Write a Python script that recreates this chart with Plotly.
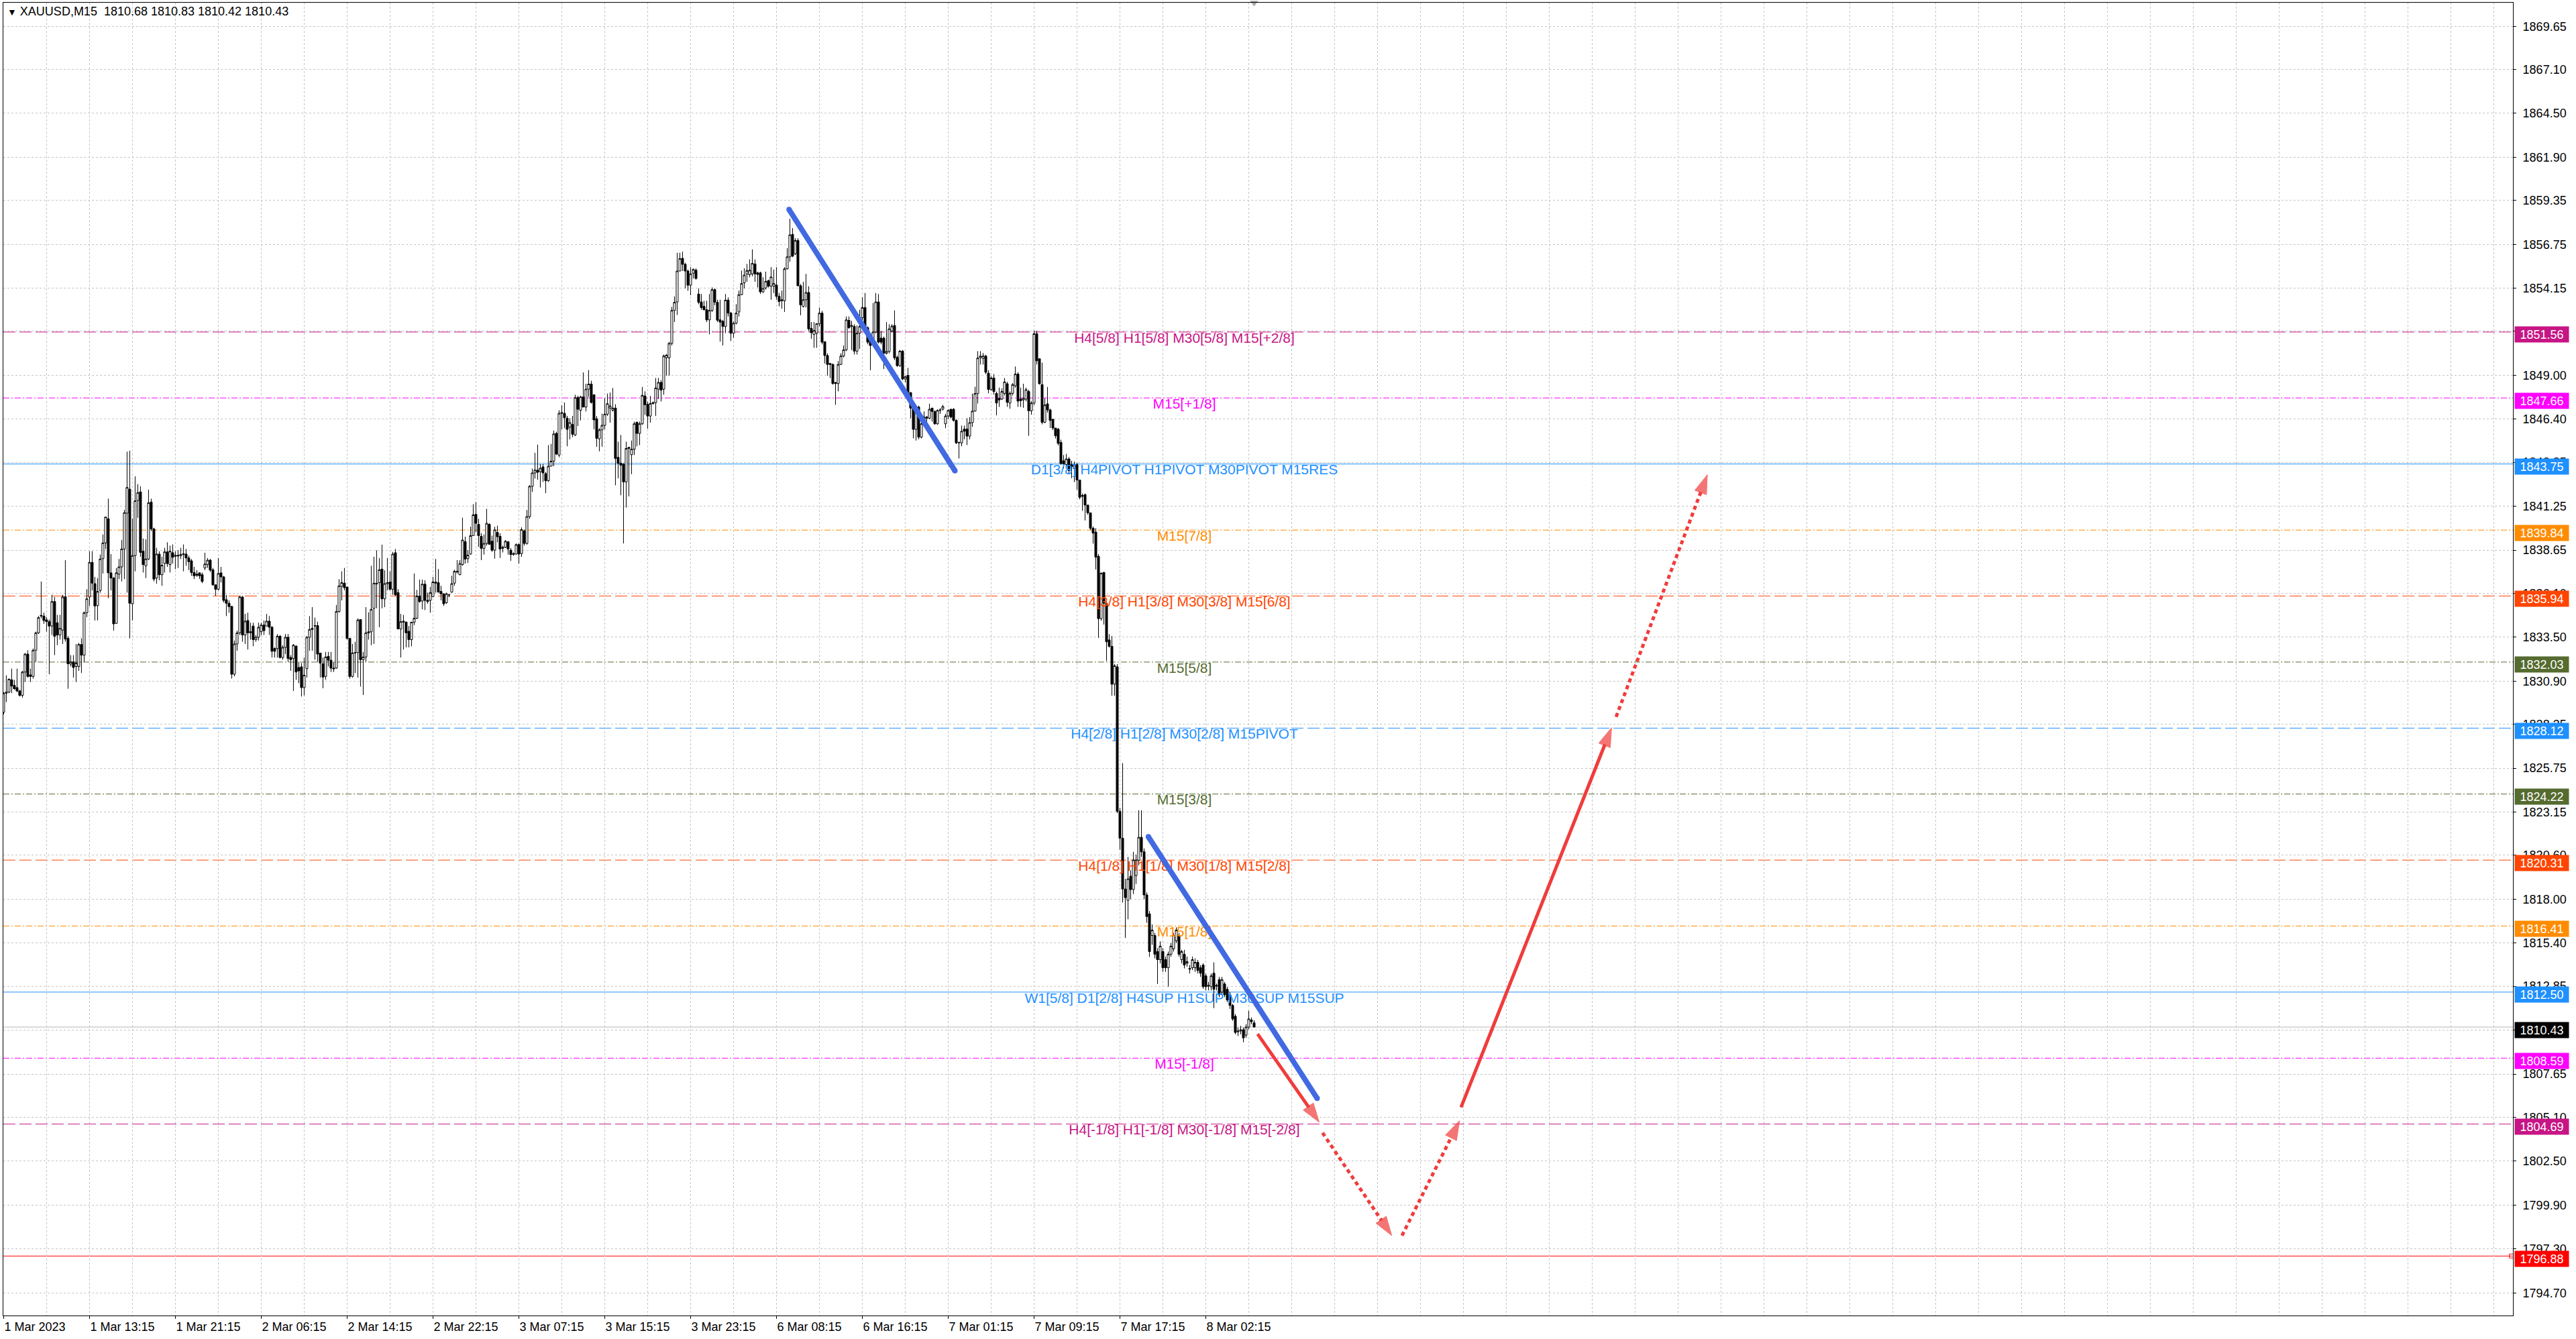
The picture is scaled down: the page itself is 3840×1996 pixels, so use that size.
# ====================================
# GRAFICO XAUUSD M15 - NIVEIS MURREY
# ====================================

import plotly.graph_objects as go

# Cotacoes M15 (uma barra por indice, 1 Mar 2023 00:00 em diante)
abertura = [
    1829.06, 1830.19, 1830.25, 1830.98, 1830.65, 1830.52, 1830.32, 1830.06, 1831.44, 1832.50,
    1831.27, 1831.18, 1832.73, 1833.76, 1834.75, 1834.75, 1834.53, 1834.42, 1834.16, 1835.61,
    1834.36, 1833.63, 1833.92, 1835.90, 1833.43, 1831.91, 1832.04, 1831.77, 1831.77, 1833.07,
    1832.44, 1834.95, 1835.88, 1837.93, 1836.67, 1835.37, 1836.27, 1838.15, 1839.08, 1840.51,
    1837.31, 1837.00, 1834.32, 1837.23, 1837.66, 1838.72, 1840.84, 1842.26, 1835.48, 1838.33,
    1841.59, 1842.10, 1838.59, 1837.73, 1838.13, 1841.50, 1839.91, 1837.00, 1838.42, 1837.20,
    1837.86, 1838.55, 1837.80, 1838.50, 1838.29, 1838.35, 1838.33, 1838.39, 1838.42, 1838.19,
    1838.02, 1837.33, 1837.23, 1837.31, 1837.20, 1837.60, 1837.80, 1838.06, 1837.49, 1836.60,
    1836.34, 1837.31, 1837.07, 1835.72, 1835.51, 1835.32, 1831.31, 1833.10, 1833.76, 1835.88,
    1833.63, 1834.49, 1833.76, 1834.16, 1833.36, 1833.50, 1833.83, 1834.22, 1834.16, 1834.45,
    1834.09, 1832.83, 1832.83, 1833.56, 1832.30, 1832.90, 1833.50, 1832.30, 1832.24, 1832.97,
    1831.71, 1831.75, 1830.52, 1831.64, 1833.50, 1833.96, 1834.16, 1834.19, 1832.56, 1831.93,
    1831.18, 1832.37, 1832.14, 1831.67, 1831.67, 1835.02, 1836.51, 1836.70, 1836.47, 1833.43,
    1831.18, 1832.57, 1832.59, 1834.55, 1832.17, 1832.33, 1833.76, 1833.82, 1835.21, 1836.70,
    1836.73, 1837.53, 1835.77, 1836.67, 1836.77, 1836.34, 1838.50, 1836.14, 1833.99, 1834.45,
    1834.40, 1833.85, 1833.36, 1834.39, 1834.62, 1835.94, 1835.64, 1836.64, 1835.68, 1835.68,
    1835.90, 1836.77, 1836.73, 1836.21, 1836.07, 1835.54, 1836.01, 1836.17, 1836.70, 1837.36,
    1837.20, 1837.80, 1839.16, 1838.15, 1838.42, 1839.51, 1840.77, 1840.18, 1839.47, 1838.76,
    1839.05, 1840.18, 1839.18, 1838.65, 1839.70, 1839.47, 1838.76, 1838.82, 1839.15, 1838.65,
    1838.39, 1838.42, 1838.98, 1838.45, 1839.80, 1839.05, 1840.64, 1842.43, 1843.22, 1843.39,
    1843.30, 1843.58, 1843.18, 1842.76, 1843.62, 1843.92, 1845.56, 1844.28, 1846.75, 1846.75,
    1846.46, 1845.93, 1846.09, 1845.47, 1847.68, 1846.93, 1847.72, 1847.12, 1848.18, 1848.48,
    1847.85, 1846.43, 1845.24, 1845.77, 1846.04, 1846.70, 1847.06, 1846.93, 1847.06, 1844.14,
    1843.80, 1843.75, 1842.69, 1844.67, 1844.30, 1844.63, 1846.22, 1845.56, 1846.13, 1847.78,
    1847.28, 1846.59, 1847.33, 1847.38, 1848.18, 1848.58, 1848.18, 1850.03, 1850.03, 1850.89,
    1852.84, 1853.34, 1855.17, 1855.92, 1855.57, 1855.17, 1854.33, 1855.04, 1855.22, 1853.81,
    1853.34, 1853.08, 1852.88, 1852.28, 1852.84, 1854.07, 1853.32, 1852.28, 1852.19, 1851.89,
    1853.45, 1852.68, 1851.49, 1852.08, 1852.75, 1853.77, 1854.47, 1854.99, 1854.95, 1855.00,
    1855.59, 1855.06, 1855.06, 1853.94, 1854.17, 1854.60, 1854.27, 1854.27, 1854.34, 1853.67,
    1853.41, 1853.41, 1855.30, 1856.01, 1857.34, 1856.19, 1856.98, 1854.30, 1853.08, 1853.47,
    1853.90, 1851.78, 1851.42, 1851.49, 1852.05, 1852.68, 1850.99, 1850.17, 1849.70, 1849.64,
    1848.58, 1848.51, 1849.64, 1850.14, 1850.50, 1852.25, 1851.89, 1851.89, 1850.43, 1851.49,
    1852.41, 1853.01, 1851.82, 1851.09, 1850.96, 1851.56, 1853.34, 1851.20, 1851.20, 1850.30,
    1850.41, 1851.62, 1851.95, 1850.06, 1849.57, 1850.43, 1848.78, 1849.00, 1847.98, 1847.12,
    1845.80, 1847.12, 1845.34, 1846.13, 1846.53, 1846.46, 1847.06, 1846.86, 1846.13, 1846.92,
    1847.00, 1846.13, 1846.59, 1846.99, 1846.99, 1846.33, 1845.00, 1845.00, 1845.82, 1845.82,
    1845.40, 1846.20, 1846.88, 1847.92, 1850.04, 1850.00, 1850.14, 1849.13, 1848.16, 1848.84,
    1847.93, 1847.63, 1847.59, 1847.93, 1848.50, 1847.36, 1847.93, 1848.38, 1849.07, 1847.59,
    1847.54, 1847.59, 1848.04, 1846.90, 1847.36, 1851.46, 1849.98, 1848.45, 1846.22, 1847.31,
    1846.95, 1846.40, 1845.88, 1845.81, 1845.03, 1843.94, 1843.71, 1844.05, 1843.71, 1843.48,
    1843.71, 1842.80, 1841.89, 1841.94, 1841.32, 1840.86, 1839.95, 1839.72, 1838.29, 1834.60,
    1837.33, 1835.51, 1833.34, 1832.96, 1830.72, 1831.75, 1823.20, 1821.61, 1818.60, 1817.93,
    1819.36, 1818.57, 1819.40, 1820.30, 1821.66, 1820.80, 1818.25, 1817.13, 1815.85, 1815.85,
    1814.90, 1814.42, 1814.90, 1814.42, 1813.94, 1814.74, 1815.06, 1815.53, 1815.85, 1814.42,
    1814.74, 1814.20, 1813.90, 1813.94, 1813.94, 1814.26, 1813.94, 1814.10, 1813.46, 1812.85,
    1812.82, 1813.62, 1812.85, 1813.24, 1812.50, 1812.98, 1812.66, 1812.34, 1811.71, 1811.07,
    1810.15, 1810.20, 1810.27, 1809.95, 1810.43, 1810.85, 1810.68,
]
maxima = [
    1830.25, 1831.25, 1831.05, 1831.64, 1830.98, 1831.64, 1830.39, 1831.51, 1832.57, 1832.73,
    1831.64, 1832.83, 1833.83, 1834.75, 1836.80, 1834.95, 1834.69, 1834.55, 1836.01, 1835.88,
    1834.82, 1834.82, 1836.01, 1838.06, 1833.56, 1832.44, 1832.44, 1833.10, 1833.16, 1833.43,
    1835.02, 1836.34, 1838.59, 1838.59, 1837.07, 1837.00, 1838.39, 1839.58, 1840.64, 1841.70,
    1838.42, 1837.07, 1837.60, 1838.13, 1839.25, 1841.04, 1844.48, 1844.54, 1840.51, 1843.02,
    1842.56, 1842.43, 1839.34, 1839.29, 1842.23, 1841.70, 1839.98, 1838.79, 1838.59, 1838.26,
    1838.79, 1839.12, 1838.92, 1838.99, 1838.59, 1838.66, 1838.79, 1838.99, 1838.72, 1838.33,
    1838.13, 1837.66, 1837.47, 1837.33, 1837.33, 1838.50, 1838.19, 1838.13, 1837.60, 1836.60,
    1838.19, 1837.66, 1837.13, 1836.01, 1835.68, 1835.35, 1833.30, 1833.89, 1835.94, 1835.94,
    1834.88, 1834.95, 1834.36, 1834.36, 1833.63, 1834.36, 1834.36, 1834.49, 1834.88, 1834.75,
    1834.16, 1832.90, 1833.69, 1833.63, 1833.03, 1833.69, 1833.69, 1832.44, 1833.10, 1833.03,
    1832.04, 1831.97, 1832.30, 1833.56, 1834.75, 1835.28, 1834.66, 1834.42, 1832.56, 1832.30,
    1832.63, 1832.63, 1832.63, 1832.04, 1835.41, 1836.93, 1837.40, 1837.60, 1836.47, 1833.43,
    1833.10, 1833.23, 1834.62, 1834.55, 1832.63, 1835.28, 1834.97, 1837.73, 1838.26, 1838.65,
    1838.19, 1838.98, 1837.46, 1838.19, 1837.40, 1838.55, 1838.72, 1836.34, 1834.88, 1834.82,
    1834.42, 1834.16, 1834.42, 1837.27, 1836.30, 1836.91, 1836.91, 1836.87, 1836.14, 1836.47,
    1837.07, 1838.13, 1837.53, 1836.54, 1836.07, 1836.14, 1836.07, 1837.13, 1837.49, 1838.06,
    1838.06, 1840.57, 1839.45, 1838.65, 1840.04, 1841.37, 1841.50, 1840.51, 1839.65, 1839.58,
    1841.10, 1840.24, 1839.51, 1840.04, 1840.10, 1839.65, 1838.92, 1839.25, 1839.18, 1838.78,
    1838.52, 1839.05, 1839.05, 1840.00, 1839.87, 1841.03, 1842.50, 1843.48, 1844.41, 1844.90,
    1843.75, 1843.75, 1843.28, 1844.87, 1844.94, 1845.73, 1845.66, 1846.93, 1847.23, 1847.39,
    1846.60, 1846.46, 1846.60, 1847.85, 1847.79, 1847.79, 1849.17, 1848.50, 1849.31, 1848.68,
    1847.85, 1846.59, 1845.87, 1846.73, 1847.65, 1847.92, 1847.98, 1848.25, 1847.29, 1845.07,
    1845.47, 1843.80, 1845.07, 1844.74, 1845.14, 1846.26, 1846.26, 1846.26, 1848.31, 1848.05,
    1847.45, 1847.78, 1847.45, 1848.84, 1848.84, 1848.71, 1850.23, 1850.27, 1850.98, 1853.05,
    1853.67, 1856.25, 1856.25, 1856.32, 1855.66, 1855.26, 1855.40, 1855.33, 1855.33, 1854.14,
    1853.81, 1853.41, 1853.41, 1853.81, 1854.20, 1854.14, 1853.47, 1853.47, 1852.28, 1853.81,
    1853.61, 1852.75, 1852.18, 1853.21, 1854.01, 1855.20, 1855.33, 1855.59, 1855.86, 1856.45,
    1855.86, 1855.13, 1855.13, 1854.80, 1855.13, 1854.66, 1855.40, 1855.26, 1855.40, 1853.87,
    1854.01, 1855.40, 1856.52, 1858.26, 1857.71, 1857.11, 1857.11, 1854.40, 1854.53, 1855.00,
    1854.27, 1852.15, 1852.15, 1852.08, 1853.01, 1852.81, 1850.99, 1850.30, 1849.70, 1849.70,
    1848.58, 1849.84, 1850.30, 1850.76, 1852.48, 1852.48, 1852.22, 1852.02, 1851.95, 1852.88,
    1853.61, 1853.87, 1851.89, 1851.16, 1853.28, 1853.87, 1853.81, 1851.62, 1851.29, 1852.15,
    1852.02, 1852.02, 1852.84, 1850.17, 1850.50, 1850.50, 1848.97, 1849.44, 1847.98, 1847.19,
    1847.06, 1847.19, 1846.59, 1846.86, 1846.59, 1847.32, 1847.06, 1846.92, 1846.99, 1847.06,
    1847.25, 1846.72, 1846.99, 1847.01, 1847.06, 1846.40, 1845.06, 1846.02, 1846.02, 1846.46,
    1846.53, 1847.92, 1848.32, 1850.43, 1850.43, 1850.32, 1850.21, 1849.30, 1848.95, 1849.07,
    1848.04, 1848.27, 1848.22, 1848.84, 1848.61, 1848.04, 1848.54, 1849.52, 1849.18, 1848.27,
    1848.50, 1848.27, 1848.15, 1847.47, 1851.64, 1851.64, 1849.98, 1849.75, 1847.63, 1848.31,
    1847.02, 1846.40, 1845.88, 1845.88, 1845.19, 1844.28, 1844.35, 1844.16, 1843.94, 1843.89,
    1843.82, 1842.80, 1842.00, 1842.00, 1841.32, 1840.86, 1840.05, 1839.95, 1838.42, 1837.33,
    1837.37, 1835.62, 1833.68, 1833.57, 1831.91, 1831.91, 1823.40, 1826.05, 1819.20, 1820.50,
    1819.70, 1820.80, 1820.64, 1823.26, 1823.26, 1821.00, 1818.40, 1817.30, 1816.50, 1816.00,
    1815.10, 1815.50, 1815.10, 1814.60, 1814.90, 1815.40, 1816.00, 1816.33, 1816.00, 1815.00,
    1815.00, 1814.60, 1814.10, 1814.60, 1814.50, 1814.40, 1814.10, 1814.20, 1813.60, 1813.10,
    1813.60, 1814.26, 1813.00, 1813.40, 1813.40, 1813.10, 1812.80, 1812.50, 1811.80, 1811.20,
    1810.40, 1810.50, 1810.40, 1810.60, 1811.39, 1811.00, 1810.83,
]
minima = [
    1828.93, 1829.66, 1830.19, 1830.19, 1830.39, 1830.25, 1829.99, 1829.92, 1830.85, 1831.11,
    1830.85, 1831.05, 1832.04, 1833.69, 1834.62, 1834.29, 1833.83, 1831.31, 1833.63, 1832.44,
    1833.03, 1833.36, 1833.10, 1833.23, 1830.45, 1831.77, 1831.11, 1830.85, 1831.51, 1831.38,
    1832.04, 1834.69, 1835.35, 1836.27, 1834.49, 1834.49, 1836.14, 1837.27, 1838.72, 1835.81,
    1836.27, 1833.89, 1834.29, 1836.94, 1836.80, 1836.94, 1836.14, 1833.43, 1834.49, 1837.40,
    1840.57, 1838.26, 1837.33, 1837.00, 1838.06, 1839.78, 1836.80, 1836.67, 1836.87, 1836.54,
    1837.33, 1837.66, 1837.33, 1837.86, 1837.53, 1837.60, 1838.13, 1837.40, 1837.73, 1837.47,
    1837.13, 1836.94, 1837.07, 1836.94, 1836.70, 1837.47, 1837.60, 1837.36, 1836.54, 1835.94,
    1836.27, 1836.74, 1835.55, 1834.75, 1834.95, 1831.05, 1831.18, 1832.70, 1833.63, 1833.23,
    1833.10, 1832.77, 1833.36, 1832.97, 1833.23, 1833.30, 1833.63, 1833.63, 1834.16, 1833.63,
    1832.30, 1832.30, 1832.30, 1832.24, 1832.17, 1832.50, 1832.04, 1831.51, 1830.32, 1830.98,
    1830.78, 1829.99, 1830.06, 1831.11, 1832.70, 1832.70, 1832.17, 1832.04, 1831.11, 1830.48,
    1830.98, 1831.77, 1831.44, 1831.44, 1831.64, 1834.95, 1835.68, 1836.27, 1833.36, 1831.05,
    1831.11, 1831.38, 1831.11, 1830.58, 1830.08, 1832.06, 1833.36, 1833.03, 1833.10, 1835.21,
    1834.09, 1835.21, 1835.28, 1836.27, 1836.27, 1836.01, 1835.94, 1833.96, 1832.30, 1832.77,
    1832.90, 1832.90, 1832.96, 1834.22, 1834.58, 1835.54, 1835.15, 1835.11, 1835.48, 1834.95,
    1835.87, 1836.14, 1836.14, 1835.68, 1835.35, 1835.48, 1835.87, 1836.14, 1836.54, 1837.27,
    1837.17, 1837.73, 1837.86, 1837.89, 1838.39, 1839.51, 1839.71, 1838.85, 1838.06, 1838.39,
    1838.92, 1838.98, 1838.55, 1838.15, 1839.12, 1838.19, 1838.52, 1838.78, 1838.39, 1838.02,
    1838.32, 1838.39, 1837.86, 1838.26, 1838.92, 1838.98, 1840.51, 1842.10, 1842.89, 1842.82,
    1842.36, 1842.69, 1842.03, 1842.69, 1843.62, 1843.62, 1844.28, 1844.15, 1845.80, 1845.87,
    1844.80, 1845.21, 1845.34, 1845.40, 1846.00, 1846.33, 1847.12, 1846.86, 1847.72, 1847.33,
    1845.80, 1844.77, 1844.50, 1844.77, 1845.80, 1846.59, 1846.20, 1846.86, 1842.49, 1842.90,
    1841.90, 1839.05, 1841.17, 1841.83, 1843.15, 1844.28, 1844.80, 1844.87, 1846.07, 1846.66,
    1845.84, 1846.20, 1847.26, 1846.59, 1847.60, 1847.45, 1847.85, 1848.98, 1848.98, 1850.76,
    1852.15, 1852.57, 1855.17, 1855.17, 1854.14, 1854.00, 1853.74, 1854.73, 1854.66, 1853.21,
    1852.88, 1852.84, 1852.15, 1851.42, 1852.75, 1853.14, 1852.15, 1850.99, 1850.76, 1851.49,
    1852.48, 1851.03, 1851.22, 1852.02, 1852.48, 1853.74, 1854.14, 1854.53, 1854.80, 1854.86,
    1854.53, 1854.20, 1853.81, 1853.87, 1854.07, 1854.20, 1853.47, 1853.87, 1853.47, 1853.08,
    1852.94, 1852.75, 1855.26, 1855.72, 1855.99, 1856.12, 1854.27, 1852.55, 1853.01, 1853.01,
    1851.62, 1851.16, 1850.63, 1850.63, 1851.89, 1850.83, 1849.70, 1848.98, 1848.84, 1848.45,
    1847.25, 1848.05, 1849.61, 1850.06, 1850.43, 1851.75, 1850.50, 1850.23, 1850.23, 1850.56,
    1852.28, 1851.62, 1850.83, 1849.30, 1850.70, 1851.49, 1850.89, 1850.83, 1849.37, 1850.23,
    1850.30, 1851.56, 1849.90, 1849.50, 1849.50, 1848.71, 1848.58, 1847.92, 1846.46, 1845.27,
    1845.14, 1845.21, 1845.27, 1845.99, 1846.20, 1846.40, 1846.26, 1846.07, 1846.07, 1846.72,
    1846.92, 1845.87, 1846.40, 1846.46, 1846.26, 1844.93, 1844.08, 1844.80, 1845.21, 1844.87,
    1845.21, 1845.95, 1846.86, 1847.33, 1849.64, 1849.64, 1849.07, 1847.93, 1848.09, 1847.86,
    1846.63, 1847.13, 1847.54, 1847.81, 1847.13, 1847.02, 1847.80, 1848.27, 1847.13, 1847.13,
    1847.08, 1847.46, 1845.42, 1846.67, 1847.24, 1849.64, 1848.45, 1846.10, 1846.17, 1846.79,
    1845.88, 1845.76, 1845.26, 1844.85, 1843.71, 1843.49, 1843.60, 1843.14, 1842.91, 1842.68,
    1842.23, 1841.66, 1840.98, 1840.41, 1840.75, 1839.84, 1839.04, 1837.51, 1833.46, 1834.48,
    1834.25, 1832.09, 1832.89, 1830.04, 1830.04, 1823.09, 1820.92, 1817.80, 1815.70, 1816.81,
    1818.00, 1818.30, 1818.90, 1820.00, 1820.50, 1818.00, 1816.60, 1814.58, 1815.30, 1814.50,
    1812.98, 1814.20, 1813.70, 1813.70, 1812.82, 1814.60, 1814.90, 1815.40, 1814.60, 1814.20,
    1813.90, 1814.00, 1813.60, 1813.80, 1813.70, 1813.60, 1813.40, 1812.70, 1812.60, 1812.60,
    1812.60, 1811.55, 1812.60, 1812.20, 1812.30, 1812.20, 1811.90, 1811.50, 1810.80, 1810.00,
    1809.90, 1810.00, 1809.53, 1809.80, 1810.30, 1810.60, 1810.42,
]
fechamento = [
    1830.19, 1830.25, 1831.02, 1830.61, 1830.45, 1830.32, 1830.06, 1831.44, 1832.50, 1831.18,
    1831.18, 1832.73, 1833.76, 1834.66, 1834.79, 1834.49, 1834.42, 1834.16, 1835.61, 1833.56,
    1833.63, 1834.02, 1835.88, 1833.39, 1831.93, 1832.04, 1831.71, 1831.97, 1833.07, 1832.44,
    1834.95, 1835.77, 1837.93, 1836.70, 1835.35, 1836.21, 1838.13, 1839.08, 1840.61, 1837.31,
    1837.00, 1834.29, 1837.31, 1837.66, 1838.72, 1840.87, 1842.36, 1835.51, 1838.33, 1841.57,
    1842.06, 1838.52, 1837.80, 1838.13, 1841.46, 1839.91, 1836.94, 1838.42, 1837.20, 1837.76,
    1838.55, 1837.86, 1838.59, 1838.23, 1838.35, 1838.31, 1838.39, 1838.44, 1838.19, 1837.97,
    1837.33, 1837.13, 1837.17, 1837.13, 1836.80, 1837.83, 1838.06, 1837.47, 1836.60, 1836.34,
    1837.27, 1837.07, 1835.68, 1835.51, 1835.31, 1831.31, 1833.10, 1833.76, 1835.88, 1833.63,
    1834.45, 1833.76, 1833.83, 1833.36, 1833.50, 1834.09, 1834.22, 1833.89, 1834.45, 1834.09,
    1832.67, 1832.67, 1833.56, 1832.30, 1832.90, 1833.50, 1832.24, 1832.17, 1833.03, 1831.44,
    1831.51, 1830.52, 1831.25, 1833.50, 1833.96, 1834.02, 1834.18, 1832.50, 1831.97, 1831.14,
    1832.33, 1832.14, 1831.67, 1831.63, 1835.02, 1836.54, 1836.73, 1836.43, 1833.43, 1831.18,
    1832.57, 1832.59, 1834.52, 1832.17, 1832.33, 1833.76, 1833.82, 1835.15, 1836.70, 1836.65,
    1837.49, 1835.77, 1836.67, 1836.73, 1836.34, 1838.42, 1836.01, 1833.99, 1834.42, 1834.40,
    1833.76, 1833.36, 1834.39, 1834.62, 1835.94, 1835.61, 1836.64, 1835.68, 1835.61, 1836.14,
    1836.77, 1836.70, 1836.17, 1836.07, 1835.48, 1836.07, 1836.01, 1836.67, 1837.40, 1837.40,
    1837.86, 1839.25, 1838.12, 1838.36, 1839.51, 1840.74, 1840.24, 1839.51, 1838.76, 1839.05,
    1840.24, 1839.00, 1838.65, 1839.85, 1839.45, 1838.72, 1838.82, 1839.18, 1838.72, 1838.39,
    1838.45, 1838.98, 1838.42, 1839.87, 1839.05, 1840.64, 1842.43, 1843.22, 1843.39, 1843.26,
    1843.50, 1843.22, 1842.76, 1843.62, 1843.92, 1845.53, 1844.34, 1846.75, 1846.79, 1846.49,
    1845.80, 1846.20, 1845.51, 1847.68, 1846.99, 1847.72, 1847.12, 1848.18, 1848.48, 1847.39,
    1846.36, 1845.27, 1845.77, 1846.04, 1846.70, 1847.32, 1847.19, 1847.06, 1844.08, 1843.80,
    1843.68, 1842.69, 1844.67, 1844.74, 1844.63, 1846.13, 1845.56, 1846.13, 1847.81, 1847.26,
    1846.59, 1847.33, 1847.38, 1848.25, 1848.58, 1848.12, 1850.14, 1850.19, 1850.89, 1852.84,
    1853.32, 1855.17, 1855.91, 1855.57, 1855.17, 1854.33, 1855.00, 1855.26, 1854.73, 1853.32,
    1853.01, 1852.88, 1852.28, 1852.84, 1854.07, 1853.32, 1852.26, 1852.15, 1851.89, 1853.45,
    1852.68, 1851.49, 1852.08, 1852.68, 1853.77, 1854.43, 1854.93, 1855.20, 1855.22, 1855.62,
    1855.00, 1854.97, 1853.94, 1854.14, 1854.56, 1854.27, 1854.82, 1854.43, 1853.67, 1853.37,
    1853.47, 1855.30, 1856.01, 1857.31, 1856.05, 1856.98, 1854.30, 1853.17, 1853.47, 1853.90,
    1851.75, 1851.52, 1851.65, 1852.05, 1852.68, 1850.96, 1850.17, 1849.64, 1849.64, 1848.51,
    1848.51, 1849.64, 1850.14, 1850.50, 1852.28, 1851.82, 1851.95, 1850.43, 1851.49, 1851.89,
    1853.01, 1851.75, 1850.96, 1850.76, 1851.56, 1853.34, 1850.96, 1850.96, 1850.30, 1850.41,
    1851.75, 1851.91, 1850.03, 1849.57, 1850.43, 1848.78, 1848.91, 1847.98, 1847.06, 1845.80,
    1846.86, 1845.34, 1846.13, 1846.53, 1846.46, 1846.99, 1846.86, 1846.13, 1846.92, 1846.95,
    1847.15, 1846.59, 1846.92, 1846.53, 1846.33, 1845.00, 1845.03, 1845.69, 1845.69, 1845.40,
    1846.20, 1846.88, 1847.92, 1850.02, 1850.14, 1850.14, 1849.18, 1848.16, 1848.84, 1848.04,
    1847.36, 1847.54, 1848.04, 1848.61, 1847.40, 1847.93, 1848.45, 1849.07, 1847.47, 1847.50,
    1847.63, 1848.15, 1846.90, 1847.36, 1851.46, 1849.86, 1848.50, 1846.22, 1847.24, 1846.95,
    1846.33, 1845.88, 1845.42, 1844.97, 1843.78, 1843.76, 1844.05, 1843.37, 1843.60, 1843.71,
    1842.80, 1841.78, 1841.84, 1841.32, 1840.86, 1839.95, 1839.66, 1838.24, 1834.60, 1837.29,
    1835.51, 1833.23, 1832.96, 1830.72, 1831.81, 1823.20, 1821.61, 1818.60, 1818.09, 1819.20,
    1818.57, 1820.32, 1820.32, 1821.66, 1820.80, 1818.25, 1816.97, 1814.90, 1816.17, 1814.74,
    1814.42, 1815.22, 1813.94, 1813.94, 1814.74, 1815.22, 1815.85, 1816.17, 1814.74, 1814.90,
    1814.10, 1814.30, 1813.86, 1814.42, 1814.26, 1813.78, 1813.62, 1812.82, 1812.82, 1812.90,
    1813.46, 1812.66, 1812.90, 1812.34, 1813.24, 1812.34, 1812.03, 1811.71, 1810.91, 1810.11,
    1810.20, 1810.27, 1809.79, 1810.43, 1810.91, 1810.75, 1810.43,
]

# Rotulos do eixo de tempo (um a cada 32 barras)
rotulos_tempo = [
    "1 Mar 2023", "1 Mar 13:15", "1 Mar 21:15", "2 Mar 06:15", "2 Mar 14:15",
    "2 Mar 22:15", "3 Mar 07:15", "3 Mar 15:15", "3 Mar 23:15", "6 Mar 08:15",
    "6 Mar 16:15", "7 Mar 01:15", "7 Mar 09:15", "7 Mar 17:15", "8 Mar 02:15",
]

# Escala de precos do eixo direito
precos_eixo = [
    1869.65, 1867.10, 1864.50, 1861.90, 1859.35, 1856.75, 1854.15, 1851.60, 1849.00, 1846.40,
    1843.85, 1841.25, 1838.65, 1836.10, 1833.50, 1830.90, 1828.35, 1825.75, 1823.15, 1820.60,
    1818.00, 1815.40, 1812.85, 1810.25, 1807.65, 1805.10, 1802.50, 1799.90, 1797.30, 1794.70,
]

# Niveis horizontais (Murrey / pivots)
niveis_preco = [1851.56, 1847.66, 1843.75, 1839.84, 1835.94, 1832.03, 1828.12,
                1824.22, 1820.31, 1816.41, 1812.50, 1808.59, 1804.69, 1796.88]
niveis_texto = [
    "H4[5/8] H1[5/8] M30[5/8] M15[+2/8]",
    "M15[+1/8]",
    "D1[3/8] H4PIVOT H1PIVOT M30PIVOT M15RES",
    "M15[7/8]",
    "H4[3/8] H1[3/8] M30[3/8] M15[6/8]",
    "M15[5/8]",
    "H4[2/8] H1[2/8] M30[2/8] M15PIVOT",
    "M15[3/8]",
    "H4[1/8] H1[1/8] M30[1/8] M15[2/8]",
    "M15[1/8]",
    "W1[5/8] D1[2/8] H4SUP H1SUP M30SUP M15SUP",
    "M15[-1/8]",
    "H4[-1/8] H1[-1/8] M30[-1/8] M15[-2/8]",
    "",
]
preco_atual = 1810.43
cabecalho = "XAUUSD,M15  1810.68 1810.83 1810.42 1810.43"

# Linhas de tendencia azuis (indice da barra, preco)
tendencia_x = [[292.7, 354.5], [426.6, 489.5]]
tendencia_y = [[1858.81, 1843.35], [1821.69, 1806.21]]

# Setas de projecao vermelhas (indice da barra, preco)
setas_x = [[467.3, 490.25], [491.5, 517.3], [521.1, 542.55], [543.1, 599.2], [600.9, 634.9]]
setas_y = [[1810.02, 1804.80], [1804.17, 1798.09], [1798.09, 1804.89], [1805.68, 1828.15], [1828.79, 1843.12]]

# ---- estilos ----
FONTE = "Liberation Sans, Arial, sans-serif"
TRACO = "18px,6px"
TRACO_PONTO = "9px,3px,2px,3px"
cores_niveis = ["#C71585", "#FF00FF", "#1E90FF", "#FF8C00", "#FF4500", "#556B2F", "#1E90FF",
                "#556B2F", "#FF4500", "#FF8C00", "#1E90FF", "#FF00FF", "#C71585", "#FF0000"]
tracos_niveis = [TRACO, TRACO_PONTO, "solid", TRACO_PONTO, TRACO, TRACO_PONTO, TRACO,
                 TRACO_PONTO, TRACO, TRACO_PONTO, "solid", TRACO_PONTO, TRACO, "solid"]
setas_pontilhadas = [False, True, True, False, True]
AZUL = "#4169E1"
VERMELHO = "#F03C3C"
X_MIN, X_MAX = -0.1, 935.1
Y_MIN, Y_MAX = 1793.36, 1871.05

assert len(abertura) == len(maxima) == len(minima) == len(fechamento)
barras = list(range(len(fechamento)))

fig = go.Figure()

# Textos dos niveis (ficam atras dos candles)
for preco, texto, cor in zip(niveis_preco, niveis_texto, cores_niveis):
    if not texto:
        continue
    fig.add_trace(go.Scatter(
        x=[440], y=[preco], mode="text", text=[texto],
        textposition="bottom center",
        textfont=dict(family=FONTE, size=21, color=cor),
        hoverinfo="skip"
    ))

# Candles
fig.add_trace(go.Candlestick(
    x=barras, open=abertura, high=maxima, low=minima, close=fechamento,
    increasing=dict(line=dict(color="black", width=1), fillcolor="white"),
    decreasing=dict(line=dict(color="black", width=1), fillcolor="black"),
    whiskerwidth=0, hoverinfo="skip"
))

# Linhas de tendencia
for xs, ys in zip(tendencia_x, tendencia_y):
    fig.add_trace(go.Scatter(
        x=xs, y=ys, mode="lines+markers",
        line=dict(color=AZUL, width=8),
        marker=dict(size=8, color=AZUL),
        hoverinfo="skip"
    ))

# Setas vermelhas
for xs, ys, pontilhada in zip(setas_x, setas_y, setas_pontilhadas):
    fig.add_trace(go.Scatter(
        x=xs, y=ys, mode="lines+markers",
        line=dict(color=VERMELHO, width=5, dash="6px,5px" if pontilhada else "solid"),
        marker=dict(symbol="arrow", angleref="previous", size=[0, 30], color=VERMELHO,
                    line=dict(width=1, color=VERMELHO)),
        hoverinfo="skip"
    ))

# Marcador do deslocamento do grafico (triangulo no topo) e do nivel vermelho
fig.add_trace(go.Scatter(
    x=[barras[-1]], y=[Y_MAX], mode="markers", cliponaxis=False,
    marker=dict(symbol="triangle-down", size=11, color="#A8A8A8"),
    hoverinfo="skip"
))
fig.add_trace(go.Scatter(
    x=[X_MAX - 0.6], y=[niveis_preco[-1]], mode="markers",
    marker=dict(symbol="square-open", size=6, color="#FF0000", line=dict(width=1)),
    hoverinfo="skip"
))

# Linhas horizontais dos niveis + etiquetas no eixo
for preco, cor, traco in zip(niveis_preco, cores_niveis, tracos_niveis):
    fig.add_shape(type="line", xref="paper", x0=0, x1=1, yref="y", y0=preco, y1=preco,
                  line=dict(color=cor, width=1, dash=traco), layer="between")
fig.add_shape(type="line", xref="paper", x0=0, x1=1, yref="y", y0=preco_atual, y1=preco_atual,
              line=dict(color="#B4B4B4", width=1), layer="between")

etiquetas = list(zip(niveis_preco, cores_niveis)) + [(preco_atual, "#000000")]
for preco, cor in etiquetas:
    fig.add_annotation(
        xref="paper", x=1, xanchor="left", xshift=2,
        yref="y", y=preco, yanchor="middle", yshift=-4,
        text=f"{preco:.2f}", showarrow=False,
        font=dict(family=FONTE, size=18, color="white"),
        bgcolor=cor, width=80, height=23, borderpad=0, align="center"
    )

# Cabecalho do simbolo
fig.add_annotation(
    xref="paper", x=0, xanchor="left", xshift=4,
    yref="paper", y=1, yanchor="top", yshift=-1,
    text="<span style='font-size:14px'>\u25BC</span> " + cabecalho,
    showarrow=False, font=dict(family=FONTE, size=18, color="black")
)

# Eixos
ticks_tempo = [32 * i for i in range(len(rotulos_tempo))]
grade_tempo = list(range(0, int(X_MAX) + 1, 16))

fig.update_layout(
    width=3840, height=1996,
    margin=dict(l=5, r=94, t=4, b=35),
    paper_bgcolor="white", plot_bgcolor="white",
    showlegend=False, hovermode=False,
    boxgap=0.25, boxgroupgap=0,
    xaxis=dict(
        range=[X_MIN, X_MAX], rangeslider_visible=False,
        tickvals=ticks_tempo, ticktext=rotulos_tempo,
        ticklabelposition="outside right",
        ticks="outside", ticklen=4, tickcolor="black",
        tickfont=dict(family=FONTE, size=18, color="black"),
        showgrid=False, zeroline=False,
        showline=True, linecolor="black", linewidth=1, mirror=True,
        minor=dict(tickvals=grade_tempo, showgrid=True, gridcolor="#C4C4C4",
                   griddash="3px,3px", gridwidth=1, ticks=""),
    ),
    yaxis=dict(
        side="right", range=[Y_MIN, Y_MAX],
        tickvals=precos_eixo, ticktext=[f"{v:.2f}" for v in precos_eixo],
        ticks="outside", ticklen=4, tickcolor="black", ticklabelstandoff=6,
        tickfont=dict(family=FONTE, size=18, color="black"),
        showgrid=True, gridcolor="#C4C4C4", griddash="3px,3px", gridwidth=1,
        zeroline=False,
        showline=True, linecolor="black", linewidth=1, mirror=True,
    ),
)

fig.write_html("out.html", config={"displayModeBar": False},
               post_script="document.body.style.margin='0';")
